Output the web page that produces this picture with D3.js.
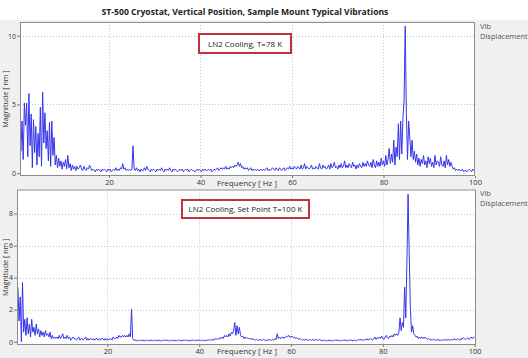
<!DOCTYPE html>
<html><head><meta charset="utf-8">
<script src="https://cdn.jsdelivr.net/npm/d3@7"></script>
<style>
body{margin:0;background:#fff;}
svg{display:block;}
text{font-family:"Open Sans","Noto Sans",sans-serif;}
</style></head>
<body><svg id="c" width="528" height="358"></svg>
<script>
// Frequency grid (Hz): regular spectrum bins
const freqStart = 0.5, freqStep = 0.25;

// Magnitude [nm], LN2 cooling, T=78 K (bins 0.5 .. 100 Hz)
const magT78 = [
 3.2,1.6,
 3.8,1.0,5.1,3.5, 5.1,1.2,5.8,2.0, 4.3,0.4,3.9,1.5, 3.4,0.6,2.9,1.2, 4.8,0.5,5.9,2.2,
 4.4,1.8,3.1,0.9, 3.7,0.5,3.8,1.3, 2.6,0.6,1.3,0.4, 1.1,0.5,0.9,0.3, 0.8,0.5,1.0,0.3,
 1.3,0.4,0.7,0.2, 0.6,0.3,0.5,0.2, 0.5,0.3,0.4,0.6, 0.3,0.2,0.5,0.3, 0.2,0.4,0.3,0.6,
 0.4,0.2,0.3,0.2, 0.1,0.3,0.2,0.3, 0.2,0.1,0.3,0.2, 0.3,0.2,0.1,0.3, 0.2,0.3,0.1,0.2,
 0.3,0.2,0.4,0.2, 0.3,0.2,0.4,0.3, 0.7,0.3,0.4,0.2, 0.3,0.2,0.3,0.2, 0.3,2.0,0.3,0.2,
 0.4,0.2,0.3,0.1, 0.3,0.2,0.2,0.4, 0.2,0.5,0.3,0.2, 0.1,0.3,0.2,0.3, 0.2,0.1,0.3,0.2,
 0.3,0.2,0.4,0.2, 0.1,0.3,0.2,0.3, 0.2,0.4,0.2,0.1, 0.3,0.2,0.3,0.2, 0.1,0.2,0.3,0.2,
 0.3,0.1,0.2,0.3, 0.2,0.3,0.1,0.2, 0.3,0.2,0.2,0.1, 0.2,0.3,0.2,0.3, 0.2,0.1,0.3,0.2,
 0.3,0.2,0.2,0.3, 0.2,0.3,0.1,0.2, 0.3,0.2,0.3,0.4, 0.2,0.3,0.4,0.3, 0.4,0.3,0.5,0.3,
 0.4,0.3,0.5,0.4, 0.5,0.4,0.6,0.5, 0.6,0.8,0.5,0.7, 0.4,0.5,0.3,0.4, 0.3,0.4,0.2,0.3,
 0.4,0.2,0.3,0.2, 0.3,0.2,0.3,0.2, 0.2,0.3,0.2,0.3, 0.2,0.3,0.4,0.2, 0.3,0.2,0.3,0.4,
 0.3,0.2,0.4,0.3, 0.2,0.4,0.3,0.2, 0.3,0.4,0.2,0.3, 0.4,0.3,0.5,0.3, 0.4,0.3,0.5,0.4,
 0.3,0.5,0.4,0.3, 0.6,0.3,0.4,0.7, 0.3,0.5,0.4,0.3, 0.4,0.6,0.3,0.4, 0.3,0.5,0.4,0.3,
 0.7,0.4,0.3,0.6, 0.4,0.5,0.3,0.4, 0.6,0.3,0.7,0.4, 0.5,0.8,0.4,0.5, 0.3,0.6,0.4,0.7,
 0.4,0.5,0.9,0.4, 0.6,0.4,0.7,0.5, 0.4,0.8,0.5,0.6, 0.3,0.6,0.4,0.7, 0.5,0.4,0.8,0.5,
 0.7,0.5,0.9,0.6, 0.5,0.8,0.4,1.0, 0.6,0.4,0.9,0.5, 0.8,0.5,1.1,0.6, 0.9,0.5,1.3,0.6,
 1.0,1.8,0.7,1.4, 0.8,2.4,0.6,1.9, 1.2,3.6,1.0,3.8, 1.4,4.0,5.3,10.7, 4.3,1.0,3.8,2.6,
 1.2,2.4,1.0,1.6, 0.8,1.4,0.6,1.1, 0.5,1.0,0.7,1.3, 0.6,0.9,0.4,1.2, 0.7,1.1,0.5,0.8,
 0.4,1.3,0.6,0.9, 0.8,0.5,1.2,0.6, 0.5,0.9,0.4,1.3, 0.6,1.0,0.5,0.8, 0.5,0.3,0.4,0.2,
 0.3,0.2,0.3,0.2, 0.2,0.3,0.1,0.2, 0.2,0.1,0.2,0.3, 0.2,0.1,0.3,0.2,
 0.3
];

// Magnitude [nm], LN2 cooling, set point T=100 K (bins 0.5 .. 100 Hz)
const magT100 = [
 3.4,1.3,
 2.8,0.0,3.7,0.6, 1.4,0.4,1.5,0.5, 1.1,0.3,1.4,0.6, 0.9,0.4,1.1,0.5, 0.8,0.3,0.7,0.4,
 0.6,0.3,0.7,0.4, 0.5,0.3,0.6,0.2, 0.4,0.2,0.3,0.2, 0.3,0.2,0.4,0.2, 0.3,0.5,0.2,0.3,
 0.2,0.4,0.2,0.3, 0.1,0.2,0.3,0.2, 0.2,0.1,0.2,0.3, 0.1,0.2,0.2,0.1, 0.2,0.3,0.1,0.2,
 0.1,0.2,0.2,0.1, 0.2,0.1,0.2,0.2, 0.1,0.2,0.1,0.2, 0.2,0.1,0.2,0.1, 0.2,0.1,0.2,0.2,
 0.1,0.3,0.2,0.2, 0.3,0.2,0.4,0.3, 0.3,0.4,0.3,0.4, 0.3,0.4,0.3,0.5, 0.3,2.05,0.2,0.1,
 0.1,0.1,0.05,0.1, 0.1,0.05,0.1,0.1, 0.05,0.1,0.1,0.05, 0.1,0.05,0.1,0.1, 0.05,0.1,0.1,0.05,
 0.1,0.1,0.05,0.1, 0.05,0.1,0.1,0.1, 0.1,0.05,0.1,0.05, 0.1,0.1,0.05,0.1, 0.05,0.1,0.1,0.05,
 0.1,0.05,0.1,0.1, 0.1,0.1,0.05,0.1, 0.05,0.1,0.1,0.1, 0.1,0.05,0.1,0.1, 0.1,0.1,0.05,0.1,
 0.1,0.05,0.1,0.1, 0.1,0.15,0.1,0.1, 0.15,0.1,0.2,0.15, 0.2,0.15,0.25,0.2, 0.3,0.2,0.4,0.3,
 0.4,0.3,0.5,0.35, 0.6,0.5,0.7,1.2, 0.4,1.0,0.5,0.9, 0.4,0.3,0.35,0.2, 0.3,0.2,0.25,0.2,
 0.2,0.15,0.2,0.15, 0.15,0.1,0.15,0.1, 0.1,0.15,0.1,0.1, 0.15,0.1,0.1,0.1, 0.1,0.15,0.1,0.1,
 0.15,0.1,0.2,0.15, 0.5,0.2,0.3,0.2, 0.25,0.3,0.2,0.3, 0.35,0.3,0.4,0.3, 0.3,0.35,0.25,0.3,
 0.2,0.25,0.2,0.15, 0.2,0.15,0.1,0.15, 0.1,0.15,0.1,0.1, 0.15,0.1,0.1,0.15, 0.1,0.1,0.15,0.1,
 0.1,0.15,0.1,0.05, 0.1,0.1,0.05,0.1, 0.05,0.1,0.1,0.05, 0.1,0.05,0.1,0.1, 0.1,0.1,0.05,0.1,
 0.05,0.1,0.1,0.1, 0.1,0.05,0.1,0.1, 0.1,0.1,0.05,0.1, 0.1,0.05,0.1,0.15, 0.1,0.15,0.1,0.1,
 0.15,0.1,0.2,0.1, 0.15,0.2,0.15,0.1, 0.2,0.3,0.15,0.25, 0.2,0.3,0.2,0.35, 0.2,0.15,0.3,0.4,
 0.25,0.2,0.35,0.3, 0.4,0.3,0.5,0.4, 0.5,0.4,0.6,1.5, 0.7,1.2,0.9,3.4, 1.5,5.0,9.2,5.5,
 2.1,0.6,1.0,0.5, 0.4,0.3,0.35,0.2, 0.3,0.2,0.3,0.25, 0.2,0.3,0.2,0.15, 0.2,0.15,0.1,0.15,
 0.1,0.15,0.1,0.1, 0.15,0.1,0.1,0.1, 0.1,0.1,0.15,0.1, 0.1,0.15,0.1,0.1, 0.15,0.1,0.2,0.15,
 0.1,0.2,0.15,0.1, 0.2,0.15,0.25,0.2, 0.15,0.2,0.25,0.15, 0.2,0.3,0.2,0.3,
 0.25
];

const title = "ST-500 Cryostat, Vertical Position, Sample Mount Typical Vibrations";
const notes = ["LN2 Cooling, T=78 K", "LN2 Cooling, Set Point T=100 K"];
const xTicks = [20, 40, 60, 80, 100];
const yTicksTop = [0, 5, 10];
const yTicksBottom = [0, 2, 4, 6, 8];
const xLabel = "Frequency [ Hz ]";
const yLabel = "Magnitude [ nm ]";
const legendLines = ["Vib", "Displacement"];

const svg = d3.select("#c");
svg.append("rect").attr("x",0).attr("y",0).attr("width",528).attr("height",358).attr("fill","#ffffff");
svg.append("rect").attr("x",0).attr("y",20).attr("width",528).attr("height",338).attr("fill","#f0f0f0");

svg.append("text").attr("x",245).attr("y",15).attr("text-anchor","middle")
  .attr("font-size",8.6).attr("font-weight",700).attr("fill","#222").text(title);

const panels = [
  {data: magT78, left:20, right:475, top:22, bottom:176, xd:[0.55,100], yd:[-0.2,11], yt:yTicksTop,
   note:notes[0], box:[199,34,92,19], xlabY:186, legY:29},
  {data: magT100, left:17, right:476, top:189.5, bottom:345, xd:[0.3,100.3], yd:[-0.2,9.5], yt:yTicksBottom,
   note:notes[1], box:[182,200,127,18], xlabY:354, legY:196}
];

panels.forEach((p,i) => {
  const x = d3.scaleLinear().domain(p.xd).range([p.left, p.right]);
  const y = d3.scaleLinear().domain(p.yd).range([p.bottom, p.top]);
  const g = svg.append("g");
  g.append("rect").attr("x",p.left).attr("y",p.top).attr("width",p.right-p.left).attr("height",p.bottom-p.top)
    .attr("fill","#fff");
  // grid
  g.selectAll(".gy").data(p.yt.filter(v=>v>0)).join("line")
    .attr("x1",p.left).attr("x2",p.right).attr("y1",d=>Math.round(y(d))+0.5).attr("y2",d=>Math.round(y(d))+0.5)
    .attr("stroke","#c4c4c4").attr("stroke-dasharray","1,2");
  g.selectAll(".gx").data(xTicks.filter(v=>v<100)).join("line")
    .attr("y1",p.top).attr("y2",p.bottom).attr("x1",d=>Math.round(x(d))+0.5).attr("x2",d=>Math.round(x(d))+0.5)
    .attr("stroke","#c4c4c4").attr("stroke-dasharray","1,2");
  // clip
  const cid = "clip"+i;
  svg.append("clipPath").attr("id",cid).append("rect")
    .attr("x",p.left).attr("y",p.top).attr("width",p.right-p.left).attr("height",p.bottom-p.top);
  const line = d3.line().x((d,k)=>x(freqStart+k*freqStep)).y(d=>y(d));
  g.append("path").datum(p.data).attr("clip-path","url(#"+cid+")")
    .attr("d",line).attr("fill","none").attr("stroke","#3535ea").attr("stroke-width",1)
    .attr("stroke-linejoin","round");
  // border
  g.append("rect").attr("x",p.left+0.5).attr("y",p.top+0.5).attr("width",p.right-p.left-1).attr("height",p.bottom-p.top-1)
    .attr("fill","none").attr("stroke","#8c8c8c");
  // y axis
  const ya = d3.axisLeft(y).tickValues(p.yt).tickSize(3).tickPadding(1).tickFormat(d3.format("d"));
  const yg = g.append("g").attr("transform",`translate(${p.left},0)`).call(ya);
  yg.select(".domain").remove();
  yg.selectAll("line").attr("stroke","#777");
  yg.selectAll("text").attr("font-size",7).attr("fill","#333").attr("font-family","'Open Sans',sans-serif");
  // x axis
  const xa = d3.axisBottom(x).tickValues(xTicks).tickSize(2).tickPadding(2).tickFormat(d3.format("d"));
  const xg = g.append("g").attr("transform",`translate(0,${p.bottom})`).call(xa);
  xg.select(".domain").remove();
  xg.selectAll("line").attr("stroke","#777");
  xg.selectAll("text").attr("font-size",7.5).attr("fill","#333").attr("font-family","'Open Sans',sans-serif");
  // axis titles
  g.append("text").attr("x",247).attr("y",p.xlabY).attr("text-anchor","middle")
    .attr("font-size",8).attr("fill","#333").text(xLabel);
  g.append("text").attr("transform",`translate(8,${(p.top+p.bottom)/2}) rotate(-90)`)
    .attr("text-anchor","middle").attr("font-size",7.2).attr("fill","#333").text(yLabel);
  // note box
  g.append("rect").attr("x",p.box[0]).attr("y",p.box[1]).attr("width",p.box[2]).attr("height",p.box[3])
    .attr("fill","#fff").attr("stroke","#c0333a").attr("stroke-width",2);
  g.append("text").attr("x",p.box[0]+p.box[2]/2).attr("y",p.box[1]+p.box[3]/2+3)
    .attr("text-anchor","middle").attr("font-size",8).attr("fill","#222").text(p.note);
  // legend
  legendLines.forEach((t,k)=>{
    g.append("text").attr("x",480).attr("y",p.legY+k*10).attr("font-size",7.5)
      .attr("font-family","'Liberation Sans',Arial,sans-serif").attr("fill","#555").text(t);
  });
});
</script></body></html>
